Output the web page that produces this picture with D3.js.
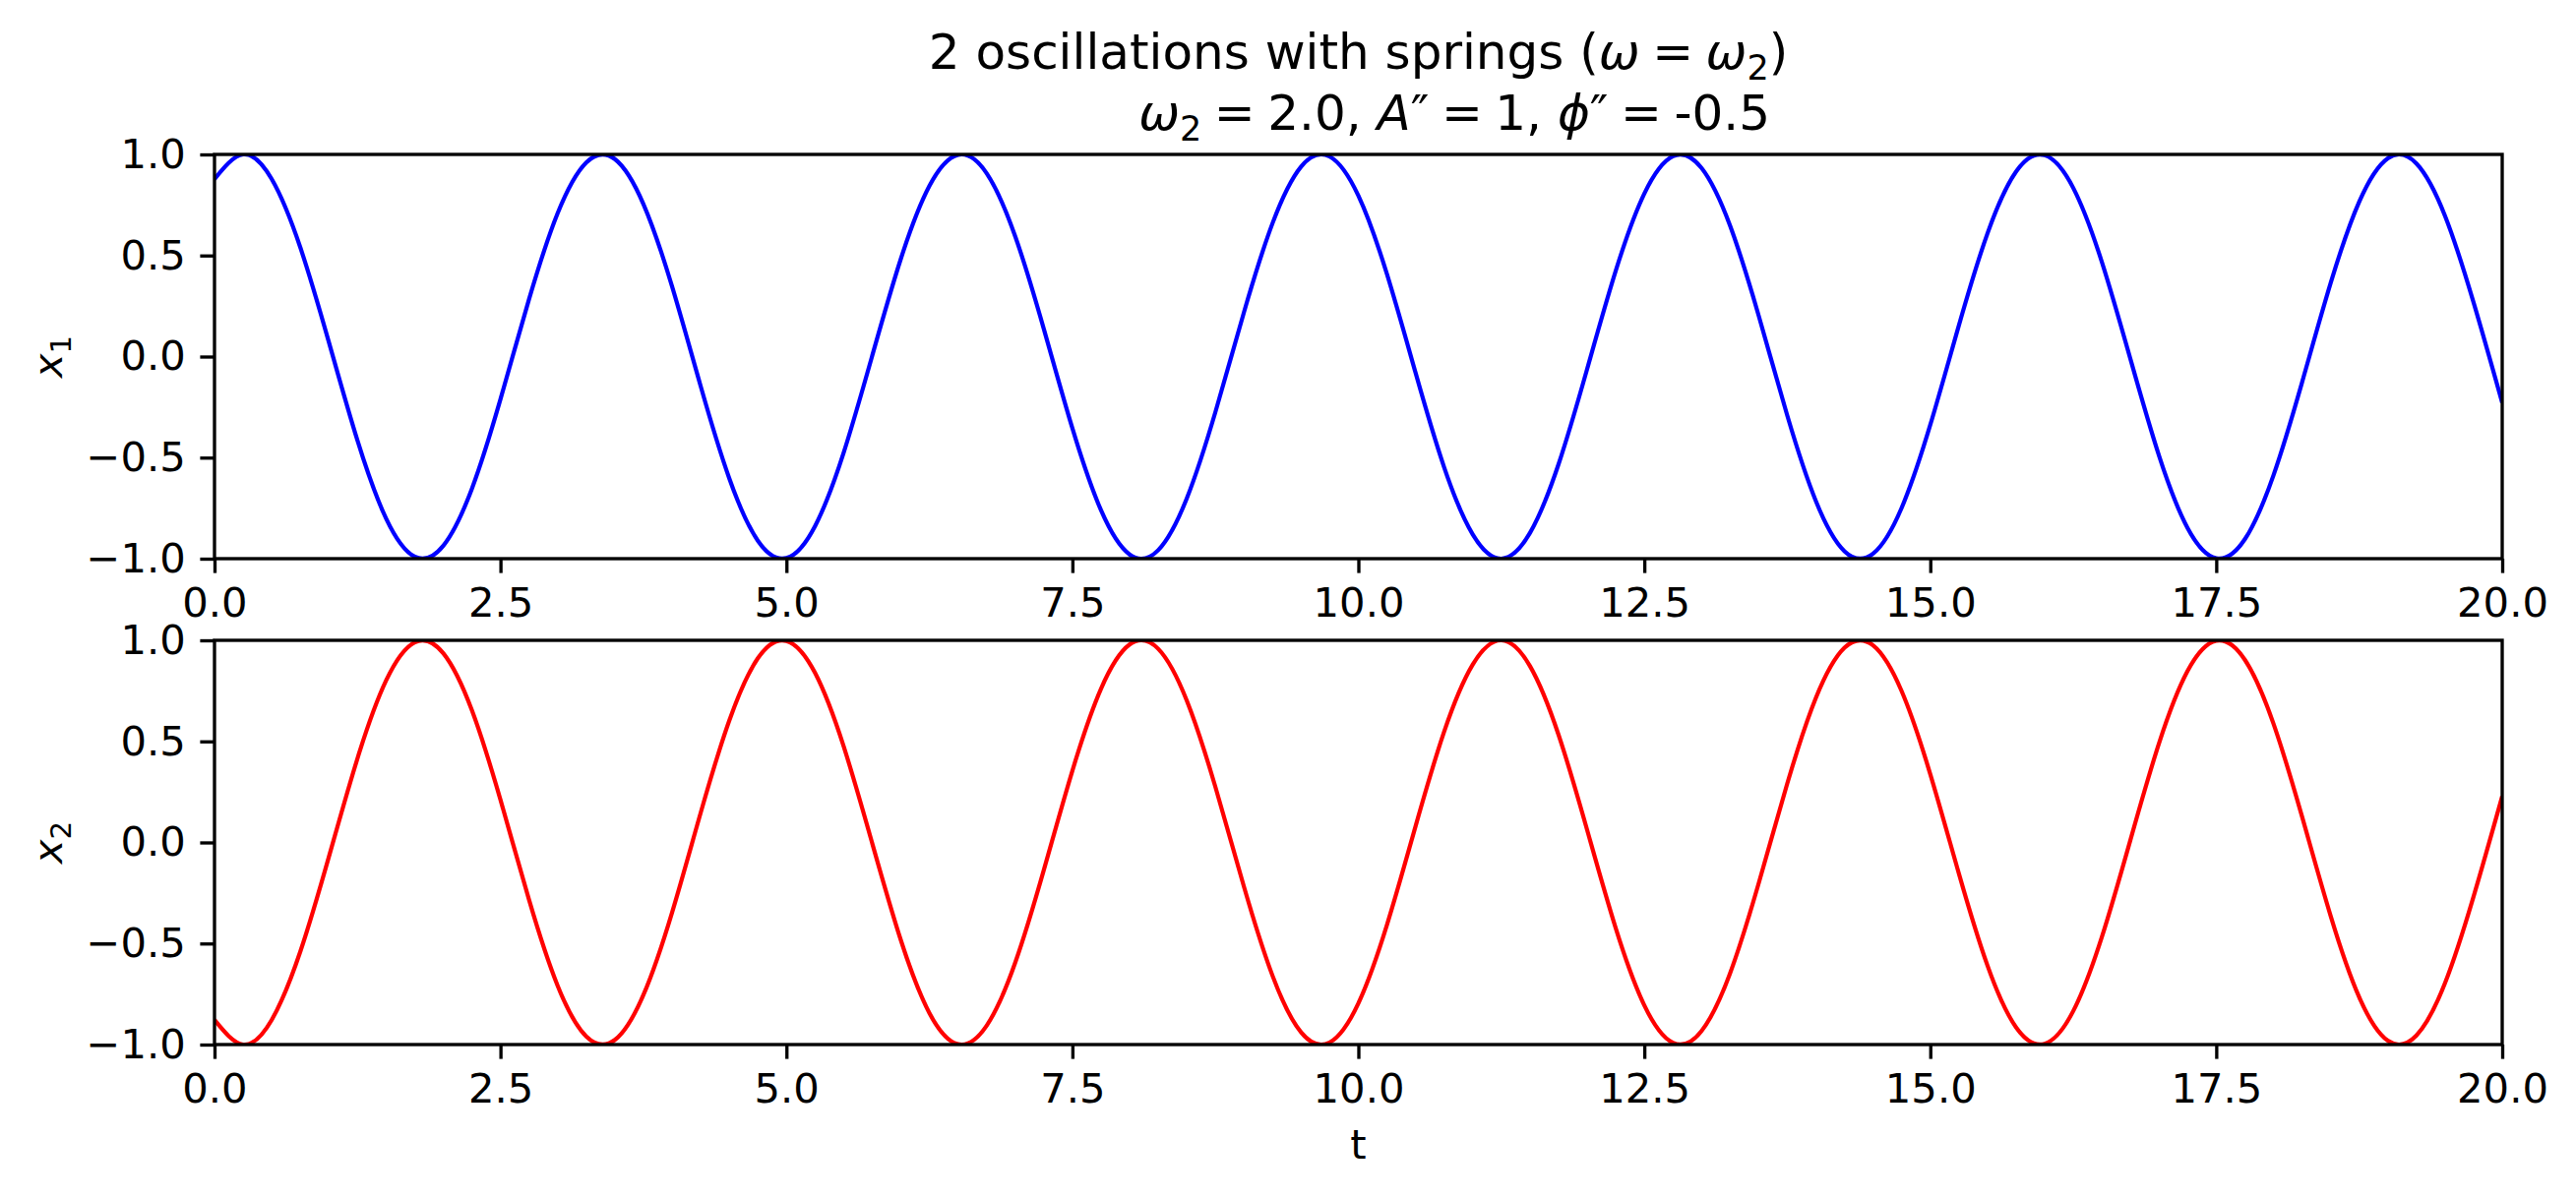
<!DOCTYPE html>
<html>
<head>
<meta charset="utf-8">
<script src="https://cdn.jsdelivr.net/npm/d3@7"></script>
<style>
  body { margin: 0; background: #fff; }
  text { font-family: "DejaVu Sans", sans-serif; fill: #000; }
</style>
</head>
<body>
<svg id="chart" width="2618" height="1218"></svg>
<script>
// time samples, step 0.25
const tValues = d3.range(0, 81).map(k => k * 0.25);

// x1
const x1Values = [0.878, 1.000, 0.878, 0.540, 0.071, -0.416, -0.801, -0.990, -0.936, -0.654,
  -0.211, 0.284, 0.709, 0.960, 0.977, 0.754, 0.347, -0.146, -0.602, -0.911,
  -0.997, -0.839, -0.476, 0.004, 0.483, 0.844, 0.998, 0.907, 0.595, 0.137,
  -0.355, -0.760, -0.979, -0.958, -0.702, -0.275, 0.219, 0.660, 0.940, 0.989,
  0.796, 0.408, -0.080, -0.548, -0.880, -1.000, -0.873, -0.533, -0.062, 0.424,
  0.806, 0.991, 0.933, 0.647, 0.202, -0.292, -0.715, -0.963, -0.975, -0.748,
  -0.338, 0.154, 0.609, 0.915, 0.996, 0.834, 0.468, -0.013, -0.491, -0.849,
  -0.998, -0.904, -0.588, -0.128, 0.363, 0.766, 0.981, 0.955, 0.696, 0.267,
  -0.228];

// x2
const x2Values = [-0.878, -1.000, -0.878, -0.540, -0.071, 0.416, 0.801, 0.990, 0.936, 0.654,
  0.211, -0.284, -0.709, -0.960, -0.977, -0.754, -0.347, 0.146, 0.602, 0.911,
  0.997, 0.839, 0.476, -0.004, -0.483, -0.844, -0.998, -0.907, -0.595, -0.137,
  0.355, 0.760, 0.979, 0.958, 0.702, 0.275, -0.219, -0.660, -0.940, -0.989,
  -0.796, -0.408, 0.080, 0.548, 0.880, 1.000, 0.873, 0.533, 0.062, -0.424,
  -0.806, -0.991, -0.933, -0.647, -0.202, 0.292, 0.715, 0.963, 0.975, 0.748,
  0.338, -0.154, -0.609, -0.915, -0.996, -0.834, -0.468, 0.013, 0.491, 0.849,
  0.998, 0.904, 0.588, 0.128, -0.363, -0.766, -0.981, -0.955, -0.696, -0.267,
  0.228];

const xTicks = [0, 2.5, 5, 7.5, 10, 12.5, 15, 17.5, 20];
const yTicks = [-1, -0.5, 0, 0.5, 1];

const svg = d3.select("#chart");
const left = 218, right = 2543;
const panels = [
  {top: 157, bottom: 568, values: x1Values, color: "#0000ff", label: "1"},
  {top: 651, bottom: 1062, values: x2Values, color: "#ff0000", label: "2"}
];
const fs = 41.7, tickLen = 14.6, lw = 3.33;
const fmt = d => d3.format(".1f")(d).replace("-", "\u2212");

const x = d3.scaleLinear().domain([0, 20]).range([left, right]);

panels.forEach((p, i) => {
  const y = d3.scaleLinear().domain([-1, 1]).range([p.bottom, p.top]);

  svg.append("clipPath").attr("id", "clip" + i)
    .append("rect")
    .attr("x", left).attr("y", p.top)
    .attr("width", right - left).attr("height", p.bottom - p.top);

  const line = d3.line()
    .x((d, j) => x(tValues[j]))
    .y(d => y(d))
    .curve(d3.curveNatural);

  svg.append("path")
    .datum(p.values)
    .attr("clip-path", `url(#clip${i})`)
    .attr("fill", "none")
    .attr("stroke", p.color)
    .attr("stroke-width", 4.2)
    .attr("d", line);

  // axes
  const gx = svg.append("g")
    .attr("transform", `translate(0,${p.bottom})`)
    .call(d3.axisBottom(x).tickValues(xTicks).tickFormat(fmt)
      .tickSize(tickLen).tickPadding(tickLen).tickSizeOuter(0));
  const gy = svg.append("g")
    .attr("transform", `translate(${left},0)`)
    .call(d3.axisLeft(y).tickValues(yTicks).tickFormat(fmt)
      .tickSize(tickLen).tickPadding(tickLen).tickSizeOuter(0));
  [gx, gy].forEach(g => {
    g.select(".domain").remove();
    g.selectAll("line").attr("stroke", "#000").attr("stroke-width", lw);
    g.selectAll("text").attr("font-size", fs)
      .attr("font-family", "DejaVu Sans").attr("fill", "#000");
  });

  svg.append("rect")
    .attr("x", left).attr("y", p.top)
    .attr("width", right - left).attr("height", p.bottom - p.top)
    .attr("fill", "none").attr("stroke", "#000").attr("stroke-width", lw)
    .attr("stroke-linecap", "square");

  // y label: x_1 / x_2
  const yl = svg.append("text")
    .attr("transform", `translate(63,${(p.top + p.bottom) / 2}) rotate(-90)`)
    .attr("text-anchor", "middle")
    .attr("font-size", fs);
  yl.append("tspan").attr("font-style", "italic").text("x");
  yl.append("tspan").attr("font-size", fs * 0.7).attr("dy", fs * 0.22).text(p.label);
});

// x label
svg.append("text")
  .attr("x", (left + right) / 2).attr("y", 1178)
  .attr("text-anchor", "middle").attr("font-size", fs)
  .text("t");

// title
const tfs = 50;
const sp = "\u2005";
const t1 = svg.append("text")
  .attr("x", (left + right) / 2).attr("y", 70)
  .attr("text-anchor", "middle").attr("font-size", tfs);
t1.append("tspan").text("2 oscillations with springs (");
t1.append("tspan").attr("font-style", "italic").text("ω");
t1.append("tspan").text(sp + "=" + sp);
t1.append("tspan").attr("font-style", "italic").text("ω");
t1.append("tspan").attr("font-size", tfs * 0.7).attr("dy", tfs * 0.22).text("2");
t1.append("tspan").attr("dy", -tfs * 0.22).text(")");

const t2 = svg.append("text")
  .attr("x", 1799).attr("y", 132)
  .attr("text-anchor", "end").attr("font-size", tfs);
t2.append("tspan").attr("font-style", "italic").text("ω");
t2.append("tspan").attr("font-size", tfs * 0.7).attr("dy", tfs * 0.22).text("2");
t2.append("tspan").attr("dy", -tfs * 0.22).text(sp + "=" + sp + "2.0, ");
t2.append("tspan").attr("font-style", "italic").text("A");
t2.append("tspan").text("\u2033" + sp + "=" + sp + "1, ");
t2.append("tspan").attr("font-style", "italic").text("ϕ");
t2.append("tspan").text("\u2033" + sp + "=" + sp + "-0.5");
</script>
</body>
</html>
